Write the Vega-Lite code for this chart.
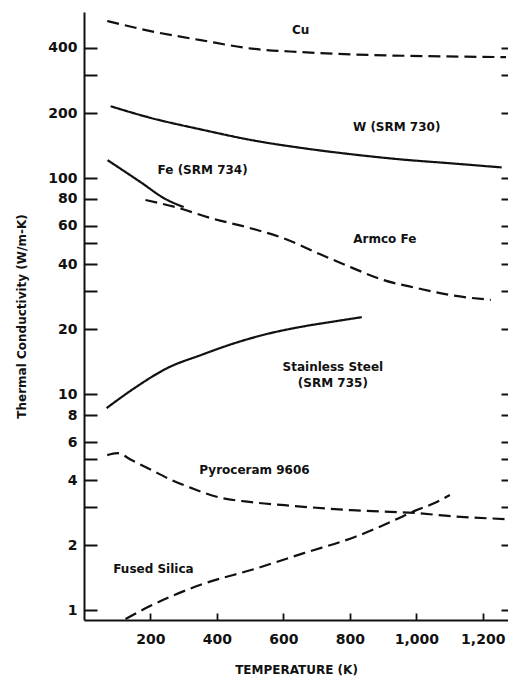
{
  "$schema": "https://vega.github.io/schema/vega-lite/v6.json",
  "width": 424,
  "height": 608,
  "autosize": {"type": "none"},
  "padding": {"left": 84, "top": 12, "right": 0, "bottom": 56},
  "background": "#ffffff",
  "config": {
    "view": {"stroke": null},
    "font": "DejaVu Sans",
    "axis": {"grid": false, "domainColor": "#111111", "tickColor": "#111111", "labelColor": "#111111", "titleColor": "#111111", "labelFont": "DejaVu Sans", "titleFont": "DejaVu Sans"}
  },
  "datasets": {
    "curves": [
      {"material": "Cu", "style": "dashed", "t": 70, "k": 533},
      {"material": "Cu", "style": "dashed", "t": 200, "k": 479},
      {"material": "Cu", "style": "dashed", "t": 351, "k": 435},
      {"material": "Cu", "style": "dashed", "t": 513, "k": 396},
      {"material": "Cu", "style": "dashed", "t": 652, "k": 383},
      {"material": "Cu", "style": "dashed", "t": 815, "k": 373},
      {"material": "Cu", "style": "dashed", "t": 1017, "k": 367},
      {"material": "Cu", "style": "dashed", "t": 1270, "k": 363},
      {"material": "W", "style": "solid", "t": 80, "k": 215},
      {"material": "W", "style": "solid", "t": 200, "k": 190},
      {"material": "W", "style": "solid", "t": 351, "k": 168},
      {"material": "W", "style": "solid", "t": 513, "k": 149},
      {"material": "W", "style": "solid", "t": 652, "k": 138},
      {"material": "W", "style": "solid", "t": 802, "k": 129},
      {"material": "W", "style": "solid", "t": 953, "k": 122},
      {"material": "W", "style": "solid", "t": 1104, "k": 117},
      {"material": "W", "style": "solid", "t": 1257, "k": 112},
      {"material": "Fe734", "style": "solid", "t": 71, "k": 121},
      {"material": "Fe734", "style": "solid", "t": 170, "k": 95.8},
      {"material": "Fe734", "style": "solid", "t": 245, "k": 80},
      {"material": "Fe734", "style": "solid", "t": 300, "k": 73.4},
      {"material": "Armco", "style": "dashed", "t": 185, "k": 79.1},
      {"material": "Armco", "style": "dashed", "t": 275, "k": 73.4},
      {"material": "Armco", "style": "dashed", "t": 381, "k": 65.3},
      {"material": "Armco", "style": "dashed", "t": 501, "k": 58.6},
      {"material": "Armco", "style": "dashed", "t": 600, "k": 52.7},
      {"material": "Armco", "style": "dashed", "t": 703, "k": 44.9},
      {"material": "Armco", "style": "dashed", "t": 802, "k": 38.7},
      {"material": "Armco", "style": "dashed", "t": 902, "k": 33.7},
      {"material": "Armco", "style": "dashed", "t": 1004, "k": 30.9},
      {"material": "Armco", "style": "dashed", "t": 1104, "k": 28.7},
      {"material": "Armco", "style": "dashed", "t": 1224, "k": 27.3},
      {"material": "SS", "style": "solid", "t": 68, "k": 8.61},
      {"material": "SS", "style": "solid", "t": 152, "k": 10.66},
      {"material": "SS", "style": "solid", "t": 251, "k": 13.2},
      {"material": "SS", "style": "solid", "t": 354, "k": 15.2},
      {"material": "SS", "style": "solid", "t": 453, "k": 17.2},
      {"material": "SS", "style": "solid", "t": 552, "k": 19.0},
      {"material": "SS", "style": "solid", "t": 655, "k": 20.5},
      {"material": "SS", "style": "solid", "t": 754, "k": 21.7},
      {"material": "SS", "style": "solid", "t": 836, "k": 22.7},
      {"material": "Pyro", "style": "dashed", "t": 70, "k": 5.22},
      {"material": "Pyro", "style": "dashed", "t": 100, "k": 5.33},
      {"material": "Pyro", "style": "dashed", "t": 143, "k": 4.95},
      {"material": "Pyro", "style": "dashed", "t": 203, "k": 4.45},
      {"material": "Pyro", "style": "dashed", "t": 264, "k": 4.0},
      {"material": "Pyro", "style": "dashed", "t": 324, "k": 3.67},
      {"material": "Pyro", "style": "dashed", "t": 402, "k": 3.34},
      {"material": "Pyro", "style": "dashed", "t": 504, "k": 3.16},
      {"material": "Pyro", "style": "dashed", "t": 604, "k": 3.06},
      {"material": "Pyro", "style": "dashed", "t": 805, "k": 2.9},
      {"material": "Pyro", "style": "dashed", "t": 1004, "k": 2.81},
      {"material": "Pyro", "style": "dashed", "t": 1107, "k": 2.72},
      {"material": "Pyro", "style": "dashed", "t": 1266, "k": 2.64},
      {"material": "Silica", "style": "dashed", "t": 125, "k": 0.909},
      {"material": "Silica", "style": "dashed", "t": 191, "k": 1.03},
      {"material": "Silica", "style": "dashed", "t": 351, "k": 1.31},
      {"material": "Silica", "style": "dashed", "t": 513, "k": 1.55},
      {"material": "Silica", "style": "dashed", "t": 664, "k": 1.84},
      {"material": "Silica", "style": "dashed", "t": 815, "k": 2.18},
      {"material": "Silica", "style": "dashed", "t": 935, "k": 2.61},
      {"material": "Silica", "style": "dashed", "t": 995, "k": 2.88},
      {"material": "Silica", "style": "dashed", "t": 1055, "k": 3.13},
      {"material": "Silica", "style": "dashed", "t": 1101, "k": 3.41}
    ],
    "labels": [
      {"label": "Cu", "t": 652, "k": 484},
      {"label": "W (SRM 730)", "t": 941, "k": 172},
      {"label": "Fe (SRM 734)", "t": 357, "k": 109},
      {"label": "Armco Fe", "t": 905, "k": 52.2},
      {"label": "Stainless Steel\n(SRM 735)", "t": 749, "k": 13.3},
      {"label": "Pyroceram 9606", "t": 513, "k": 4.45},
      {"label": "Fused Silica", "t": 209, "k": 1.55}
    ]
  },
  "resolve": {"scale": {"y": "independent"}},
  "layer": [
    {
      "data": {"name": "curves"},
      "mark": {"type": "line", "clip": true, "strokeWidth": 2.2, "color": "#111111", "interpolate": "monotone"},
      "encoding": {
        "x": {
          "field": "t", "type": "quantitative",
          "scale": {"domain": [0, 1276], "nice": false, "zero": false},
          "axis": {
            "orient": "bottom", "title": "TEMPERATURE (K)",
            "values": [200, 400, 600, 800, 1000, 1200], "format": ",d",
            "tickSize": -7, "tickWidth": 1.8, "domainWidth": 2,
            "labelFontSize": 14, "labelFontWeight": "bold", "labelPadding": 19,
            "titleFontSize": 12, "titleFontWeight": "bold", "titlePadding": 18
          }
        },
        "y": {
          "field": "k", "type": "quantitative",
          "scale": {"type": "log", "domain": [0.9, 587], "nice": false},
          "axis": {
            "orient": "left", "title": "Thermal Conductivity (W/m-K)",
            "values": [1, 2, 3, 4, 5, 6, 8, 10, 20, 30, 40, 50, 60, 80, 100, 200, 300, 400],
            "labelExpr": "indexof([3, 5, 30, 50, 300], datum.value) >= 0 ? '' : format(datum.value, 'd')",
            "tickSize": -13, "tickWidth": 2, "domainWidth": 2,
            "labelFontSize": 14, "labelFontWeight": "bold", "labelPadding": 20,
            "titleFontSize": 12, "titleFontWeight": "bold", "titlePadding": 19
          }
        },
        "detail": {"field": "material"},
        "strokeDash": {
          "field": "style", "type": "nominal",
          "scale": {"domain": ["solid", "dashed"], "range": [[1, 0], [12, 6]]},
          "legend": null
        }
      }
    },
    {
      "data": {"name": "labels"},
      "mark": {"type": "text", "fontSize": 12, "fontWeight": "bold", "color": "#111111", "align": "center", "baseline": "middle", "lineBreak": "\n", "lineHeight": 16, "font": "DejaVu Sans"},
      "encoding": {
        "x": {"field": "t", "type": "quantitative"},
        "y": {
          "field": "k", "type": "quantitative",
          "scale": {"type": "log", "domain": [0.9, 587], "nice": false},
          "axis": {
            "orient": "right", "title": null, "labels": false, "domain": false,
            "values": [1, 2, 3, 4, 5, 6, 8, 10, 20, 30, 40, 50, 60, 80, 100, 200, 300, 400],
            "tickSize": -7, "tickWidth": 2
          }
        },
        "text": {"field": "label"}
      }
    }
  ]
}
